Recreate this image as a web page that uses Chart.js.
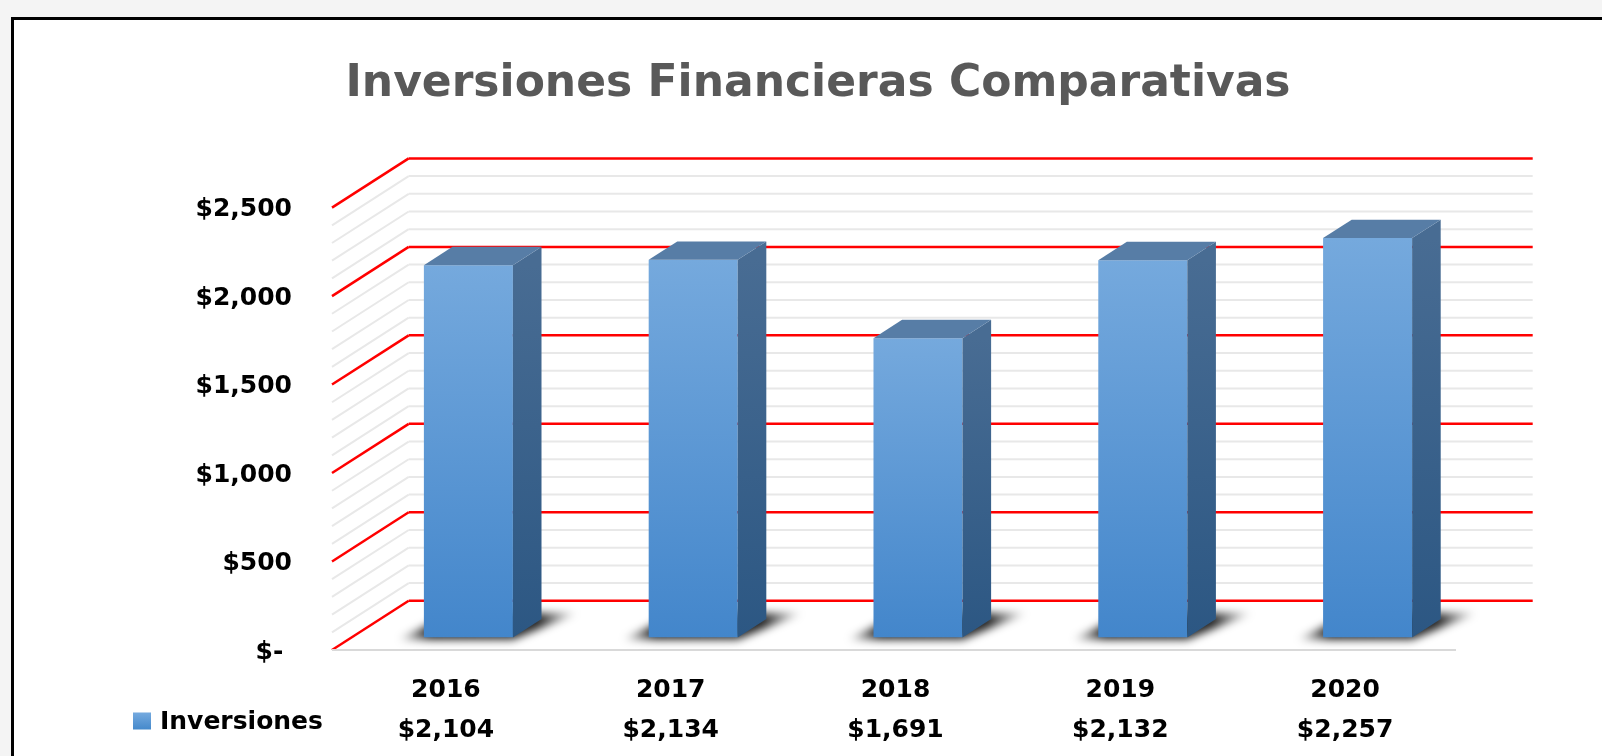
<!DOCTYPE html>
<html>
<head>
<meta charset="utf-8">
<title>Inversiones Financieras Comparativas</title>
<script src="https://cdn.jsdelivr.net/npm/chart.js@4.4.1/dist/chart.umd.min.js"></script>
<style>
    body { margin: 0; background: #f4f4f4; overflow: hidden; }
    #frame { position: absolute; left: 11px; top: 17px; width: 1700px; height: 900px; border: 3px solid #000; background: #fff; }
    #chart { position: absolute; left: 0; top: 0; }
</style>
</head>
<body>
<div id="frame"></div>
<canvas id="chart" width="1602" height="756"></canvas>
<script>
var categories = ["2016", "2017", "2018", "2019", "2020"];
var seriesName = "Inversiones";
var inversiones = [2104, 2134, 1691, 2132, 2257];
var yTickValues = [0, 500, 1000, 1500, 2000, 2500];

// oblique 3d offsets, relative to the plane the bars stand in
var FRONT = { dx: -24, dy: 12.5 };
var BACK = { dx: 52.7, dy: -36.7 };
var SIDE = { dx: 28.6, dy: -18.4 };
var FONT = "DejaVu Sans";

function money(v) {
    return v === 0 ? "$- " : "$" + v.toLocaleString("en-US");
}

function segment(ctx, x1, y1, x2, y2, color, width) {
    ctx.beginPath();
    ctx.moveTo(x1, y1);
    ctx.lineTo(x2, y2);
    ctx.strokeStyle = color;
    ctx.lineWidth = width;
    ctx.stroke();
}

function poly(ctx, pts, fill) {
    ctx.beginPath();
    ctx.moveTo(pts[0][0], pts[0][1]);
    for (var i = 1; i < pts.length; i++) ctx.lineTo(pts[i][0], pts[i][1]);
    ctx.closePath();
    ctx.fillStyle = fill;
    ctx.fill();
}

var box3d = {
    id: "box3d",
    beforeDatasetsDraw: function (chart) {
        var ctx = chart.ctx, area = chart.chartArea, y = chart.scales.y;
        var top = yTickValues[yTickValues.length - 1];
        ctx.save();
        // minor lines first, red majors on top
        for (var pass = 0; pass < 2; pass++) {
            for (var v = 0; v <= top; v += 100) {
                var major = v % 500 === 0;
                if (major !== (pass === 1)) continue;
                var py = y.getPixelForValue(v);
                var color = major ? "#ff0000" : "#e8e8e8";
                var w = major ? 2.5 : 2;
                segment(ctx, area.left + BACK.dx, py + BACK.dy, area.right + BACK.dx, py + BACK.dy, color, w);
                segment(ctx, area.left + FRONT.dx, py + FRONT.dy, area.left + BACK.dx, py + BACK.dy, color, w);
            }
        }
        var y0 = y.getPixelForValue(0) + FRONT.dy;
        segment(ctx, area.left + FRONT.dx, y0, area.right + FRONT.dx, y0, "#d9d9d9", 2);

        // soft shadows at the foot of each bar
        chart.getDatasetMeta(0).data.forEach(function (el) {
            var left = el.x - el.width / 2, right = el.x + el.width / 2, base = el.base;
            var x1 = left - 26, x2 = right + SIDE.dx + 36;
            var g = ctx.createLinearGradient(x1, 0, x2, 0);
            g.addColorStop(0, "rgba(0,0,0,0.05)");
            g.addColorStop(0.18, "rgba(0,0,0,0.9)");
            g.addColorStop(0.78, "rgba(0,0,0,0.85)");
            g.addColorStop(1, "rgba(0,0,0,0.05)");
            ctx.filter = "blur(4px)";
            poly(ctx, [[x1, base + 2], [right, base + 2], [x2, base + SIDE.dy - 6], [left + SIDE.dx, base + SIDE.dy - 6]], g);
            ctx.filter = "none";
        });
        ctx.restore();
    },
    afterDatasetsDraw: function (chart) {
        var ctx = chart.ctx;
        ctx.save();
        chart.getDatasetMeta(0).data.forEach(function (el) {
            var left = el.x - el.width / 2, right = el.x + el.width / 2;
            var g = ctx.createLinearGradient(0, el.y, 0, el.base);
            g.addColorStop(0, "#486c93");
            g.addColorStop(1, "#2c5783");
            poly(ctx, [[right, el.y], [right + SIDE.dx, el.y + SIDE.dy], [right + SIDE.dx, el.base + SIDE.dy], [right, el.base]], g);
            poly(ctx, [[left, el.y], [left + SIDE.dx, el.y + SIDE.dy], [right + SIDE.dx, el.y + SIDE.dy], [right, el.y]], "#577da6");
        });
        ctx.restore();
    },
    afterDraw: function (chart) {
        // legend key of the data table
        var ctx = chart.ctx, xs = chart.scales.x;
        var ly = xs.top + 25 + 60;
        ctx.save();
        var g = ctx.createLinearGradient(0, ly - 9, 0, ly + 9);
        g.addColorStop(0, "#72a8de");
        g.addColorStop(1, "#3f85c9");
        ctx.fillStyle = g;
        ctx.fillRect(133, ly - 10, 18, 17);
        ctx.fillStyle = "#000";
        ctx.font = "bold 25px '" + FONT + "'";
        ctx.textBaseline = "middle";
        ctx.fillText(seriesName, 160, ly);
        ctx.restore();
    }
};

new Chart(document.getElementById("chart"), {
    type: "bar",
    data: {
        labels: categories,
        datasets: [{
            label: seriesName,
            data: inversiones,
            borderWidth: 0,
            categoryPercentage: 1,
            barPercentage: 0.396,
            backgroundColor: function (c) {
                var area = c.chart.chartArea;
                if (!area) return "#5b9bd5";
                var top = c.chart.scales.y.getPixelForValue(c.raw);
                var g = c.chart.ctx.createLinearGradient(0, top, 0, area.bottom);
                g.addColorStop(0, "#75a9dd");
                g.addColorStop(1, "#4386cb");
                return g;
            }
        }]
    },
    options: {
        responsive: false,
        animation: false,
        events: [],
        layout: { padding: { left: 156, right: 122, top: 0, bottom: 0 } },
        plugins: {
            legend: { display: false },
            tooltip: { enabled: false },
            title: {
                display: true,
                text: "Inversiones Financieras Comparativas",
                color: "#595959",
                font: { family: FONT, size: 44, weight: "bold" },
                padding: { top: 58, bottom: 84.3 }
            }
        },
        scales: {
            x: {
                grid: { display: false },
                border: { display: false },
                afterFit: function (s) { s.height = 118.5; },
                ticks: {
                    color: "#000",
                    maxRotation: 0,
                    padding: 25,
                    labelOffset: -22.5,
                    font: { family: FONT, size: 25, weight: "bold", lineHeight: "40px" },
                    callback: function (value, i) {
                        return [categories[i], money(inversiones[i])];
                    }
                }
            },
            y: {
                min: yTickValues[0],
                max: yTickValues[yTickValues.length - 1],
                grid: { display: false },
                border: { display: false },
                afterFit: function (s) { s.width = 200; },
                afterBuildTicks: function (s) {
                    s.ticks = yTickValues.map(function (v) { return { value: v }; });
                },
                ticks: {
                    color: "#000",
                    padding: 56,
                    labelOffset: 14.5,
                    font: { family: FONT, size: 25, weight: "bold" },
                    callback: function (value) { return money(value); }
                }
            }
        }
    },
    plugins: [box3d]
});
</script>
</body>
</html>
